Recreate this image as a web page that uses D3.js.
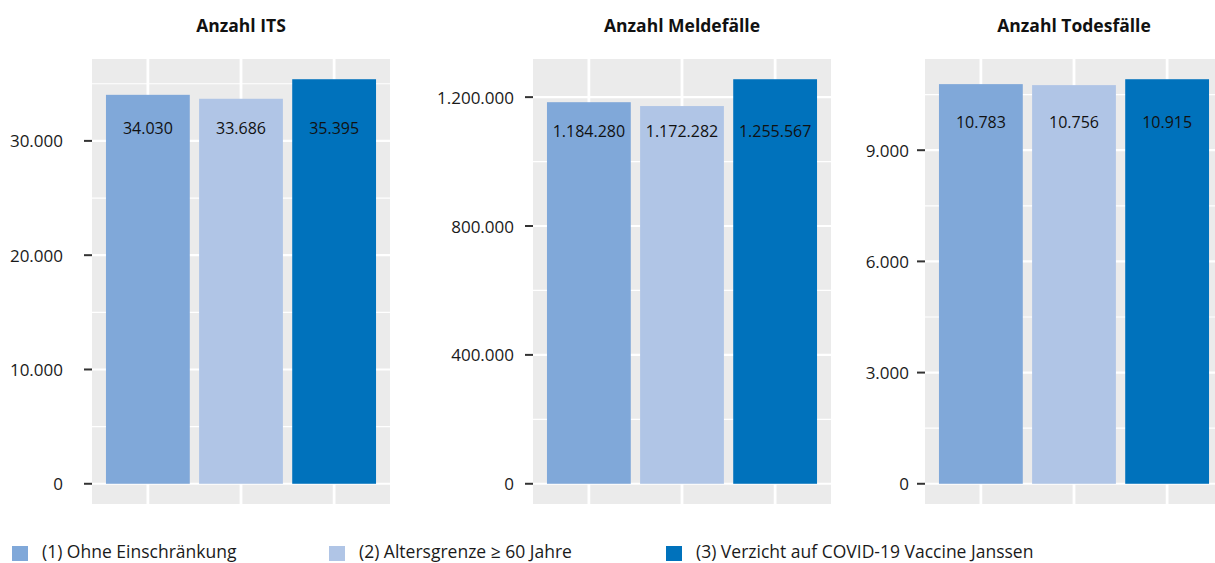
<!DOCTYPE html>
<html>
<head>
<meta charset="utf-8">
<script src="https://cdn.jsdelivr.net/npm/d3@7"></script>
<style>
  html, body { margin: 0; padding: 0; background: #fff; }
  svg { display: block; font-family: "Open Sans", sans-serif; }
</style>
</head>
<body>
<div id="chart"></div>
<script>
// Three facets (ITS, cases, deaths) for three vaccination scenarios.
const scenarios = [
  "(1) Ohne Einschränkung",
  "(2) Altersgrenze \u2265 60 Jahre",
  "(3) Verzicht auf COVID-19 Vaccine Janssen"
];
const panelTitles = ["Anzahl ITS", "Anzahl Meldefälle", "Anzahl Todesfälle"];
const itsValues = [34030, 33686, 35395];
const meldeValues = [1184280, 1172282, 1255567];
const todesValues = [10783, 10756, 10915];
const itsTicks = [0, 10000, 20000, 30000];
const meldeTicks = [0, 400000, 800000, 1200000];
const todesTicks = [0, 3000, 6000, 9000];

const colors = ["#80a8d9", "#b0c5e6", "#0072bc"];

const W = 1215;
const H = 563;
const plotTop = 59;
const plotBottom = 504;

// layout per facet: left edge, tick-label gap, label height as share of max
const layout = [
  { left: 92, labelGap: 29, labelAt: 0.88 },
  { left: 533, labelGap: 19, labelAt: 0.872 },
  { left: 925, labelGap: 16, labelAt: 0.894 }
];
const panelW = 298;

const panels = [
  { title: panelTitles[0], values: itsValues, ticks: itsTicks },
  { title: panelTitles[1], values: meldeValues, ticks: meldeTicks },
  { title: panelTitles[2], values: todesValues, ticks: todesTicks }
];

const fmt = d3.formatLocale({ decimal: ",", thousands: ".", grouping: [3], currency: ["", "€"] }).format(",d");

const svg = d3.select("#chart")
  .append("svg")
  .attr("width", W)
  .attr("height", H)
  .attr("viewBox", `0 0 ${W} ${H}`);

panels.forEach((p, i) => {
  const L = layout[i];
  const maxV = d3.max(p.values);
  const y = d3.scaleLinear()
    .domain([-0.05 * maxV, 1.05 * maxV])
    .range([plotBottom, plotTop]);
  const x = d3.scaleBand()
    .domain(scenarios)
    .range([L.left, L.left + panelW])
    .paddingInner(0.1)
    .paddingOuter(0.15);

  const step = p.ticks[1] - p.ticks[0];
  const minor = d3.range(step / 2, y.domain()[1], step);

  const g = svg.append("g");

  g.append("rect")
    .attr("x", L.left)
    .attr("y", plotTop)
    .attr("width", panelW)
    .attr("height", plotBottom - plotTop)
    .attr("fill", "#ebebeb");

  g.selectAll("line.minor")
    .data(minor)
    .join("line")
    .attr("class", "minor")
    .attr("x1", L.left)
    .attr("x2", L.left + panelW)
    .attr("y1", (d) => y(d))
    .attr("y2", (d) => y(d))
    .attr("stroke", "#fff")
    .attr("stroke-width", 1.2);

  g.selectAll("line.major")
    .data(p.ticks)
    .join("line")
    .attr("class", "major")
    .attr("x1", L.left)
    .attr("x2", L.left + panelW)
    .attr("y1", (d) => y(d))
    .attr("y2", (d) => y(d))
    .attr("stroke", "#fff")
    .attr("stroke-width", 2.2);

  g.selectAll("line.vgrid")
    .data(scenarios)
    .join("line")
    .attr("class", "vgrid")
    .attr("x1", (d) => x(d) + x.bandwidth() / 2)
    .attr("x2", (d) => x(d) + x.bandwidth() / 2)
    .attr("y1", plotTop)
    .attr("y2", plotBottom)
    .attr("stroke", "#fff")
    .attr("stroke-width", 2.8);

  g.selectAll("rect.bar")
    .data(p.values)
    .join("rect")
    .attr("class", "bar")
    .attr("x", (d, j) => x(scenarios[j]))
    .attr("y", (d) => y(d))
    .attr("width", x.bandwidth())
    .attr("height", (d) => y(0) - y(d))
    .attr("fill", (d, j) => colors[j]);

  g.selectAll("text.val")
    .data(p.values)
    .join("text")
    .attr("class", "val")
    .attr("x", (d, j) => x(scenarios[j]) + x.bandwidth() / 2)
    .attr("y", y(maxV * L.labelAt))
    .attr("text-anchor", "middle")
    .attr("dominant-baseline", "central")
    .attr("fill", "#111")
    .attr("font-size", 16)
    .text((d) => fmt(d));

  // y axis: ticks + labels
  g.selectAll("line.tick")
    .data(p.ticks)
    .join("line")
    .attr("class", "tick")
    .attr("x1", L.left - 8)
    .attr("x2", L.left)
    .attr("y1", (d) => y(d))
    .attr("y2", (d) => y(d))
    .attr("stroke", "#333")
    .attr("stroke-width", 2);

  g.selectAll("text.tick")
    .data(p.ticks)
    .join("text")
    .attr("class", "tick")
    .attr("x", L.left - L.labelGap)
    .attr("y", (d) => y(d))
    .attr("text-anchor", "end")
    .attr("dominant-baseline", "central")
    .attr("fill", "#1a1a1a")
    .attr("font-size", 17)
    .text((d) => fmt(d));

  g.append("text")
    .attr("x", L.left + panelW / 2)
    .attr("y", 32)
    .attr("text-anchor", "middle")
    .attr("font-weight", 700)
    .attr("font-size", 17.5)
    .attr("fill", "#111")
    .text(p.title);
});

// legend
const legendX = [12, 329, 666];
const legend = svg.append("g")
  .selectAll("g")
  .data(scenarios)
  .join("g")
  .attr("transform", (d, i) => `translate(${legendX[i]},546)`);
legend.append("rect")
  .attr("width", 16)
  .attr("height", 15)
  .attr("fill", (d, i) => colors[i]);
legend.append("text")
  .attr("x", 30)
  .attr("y", 12)
  .attr("font-size", 17.5)
  .attr("fill", "#1a1a1a")
  .text((d) => d);
</script>
</body>
</html>
